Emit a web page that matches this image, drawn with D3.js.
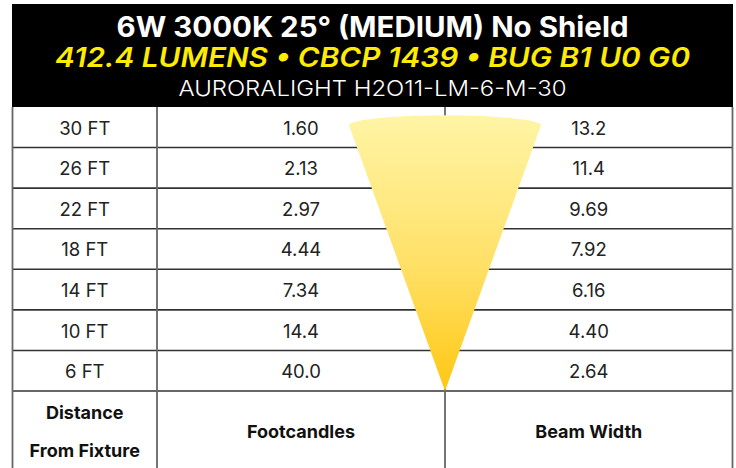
<!DOCTYPE html>
<html>
<head>
<meta charset="utf-8">
<script src="https://cdn.jsdelivr.net/npm/d3@7"></script>
<style>
  html, body { margin: 0; padding: 0; background: #fff; }
  svg { display: block; }
</style>
</head>
<body>
<div id="chart"></div>
<script>
const titleLines = [
  '6W 3000K 25° (MEDIUM) No Shield',
  '412.4 LUMENS • CBCP 1439 • BUG B1 U0 G0',
  'AURORALIGHT H2O11-LM-6-M-30'
];
const distances = ['30 FT', '26 FT', '22 FT', '18 FT', '14 FT', '10 FT', '6 FT'];
const footcandles = ['1.60', '2.13', '2.97', '4.44', '7.34', '14.4', '40.0'];
const beamWidths = ['13.2', '11.4', '9.69', '7.92', '6.16', '4.40', '2.64'];
const columnLabels = [['Distance', 'From Fixture'], ['Footcandles'], ['Beam Width']];

const width = 736;
const height = 468;

const svg = d3.select('#chart')
  .append('svg')
  .attr('width', width)
  .attr('height', height);

// table frame
const left = 12.5, right = 732.5;
const headTop = 4, headBottom = 107;
const colEdges = [left, 157, 445, right];

const y = d3.scaleBand()
  .domain(distances)
  .range([headBottom, 391]);

const colX = i => (colEdges[i] + colEdges[i + 1]) / 2;

// header block
svg.append('rect')
  .attr('x', left - 0.5)
  .attr('y', headTop)
  .attr('width', right - left + 1)
  .attr('height', headBottom - headTop)
  .attr('fill', '#000');

const titleStyle = [
  { y: 37, size: 28, weight: 700, style: 'normal', fill: '#fff', len: 512 },
  { y: 67, size: 27, weight: 600, style: 'italic', fill: '#ffec00', len: 635 },
  { y: 96, size: 22, weight: 300, style: 'normal', fill: '#fff', len: 388 }
];

svg.append('g')
  .selectAll('text')
  .data(titleLines)
  .join('text')
  .attr('x', (left + right) / 2)
  .attr('y', (d, i) => titleStyle[i].y)
  .attr('text-anchor', 'middle')
  .attr('font-family', 'Inter, "Open Sans", sans-serif')
  .attr('font-size', (d, i) => titleStyle[i].size)
  .attr('font-weight', (d, i) => titleStyle[i].weight)
  .attr('font-style', (d, i) => titleStyle[i].style)
  .attr('fill', (d, i) => titleStyle[i].fill)
  .attr('textLength', (d, i) => titleStyle[i].len)
  .attr('lengthAdjust', 'spacingAndGlyphs')
  .text(d => d);

// row lines
svg.append('g')
  .selectAll('line')
  .data(distances)
  .join('line')
  .attr('x1', left)
  .attr('x2', right)
  .attr('y1', d => y(d) + y.bandwidth())
  .attr('y2', d => y(d) + y.bandwidth())
  .attr('stroke', '#333')
  .attr('stroke-width', 1.6);

// column lines
svg.append('g')
  .selectAll('line')
  .data(colEdges)
  .join('line')
  .attr('x1', d => d)
  .attr('x2', d => d)
  .attr('y1', headBottom)
  .attr('y2', height)
  .attr('stroke', '#666')
  .attr('stroke-width', 1.8);

// beam cone
const defs = svg.append('defs');
const grad = defs.append('linearGradient')
  .attr('id', 'coneGrad')
  .attr('x1', 0).attr('y1', 0)
  .attr('x2', 0).attr('y2', 1);
grad.append('stop').attr('offset', '0%').attr('stop-color', '#fff5a6');
grad.append('stop').attr('offset', '55%').attr('stop-color', '#ffe066');
grad.append('stop').attr('offset', '100%').attr('stop-color', '#ffc712');

const coneX = colEdges[2];
const coneTop = y(distances[0]) + y.bandwidth() / 2 - 2;
const coneApex = y.range()[1];
const coneHalf = 96;
const coneRy = 10;
const cone = d3.path();
cone.moveTo(coneX - coneHalf, coneTop);
cone.lineTo(coneX, coneApex);
cone.lineTo(coneX + coneHalf, coneTop);
svg.append('path')
  .attr('d', cone.toString() + ` A ${coneHalf} ${coneRy} 0 0 0 ${coneX - coneHalf} ${coneTop} Z`)
  .attr('fill', 'url(#coneGrad)');

// cell values
const cellFont = 'Inter, "Open Sans", sans-serif';
const columns = [distances, footcandles, beamWidths];

columns.forEach((values, ci) => {
  svg.append('g')
    .selectAll('text')
    .data(values)
    .join('text')
    .attr('x', colX(ci))
    .attr('y', (d, i) => y(distances[i]) + y.bandwidth() / 2 + 1)
    .attr('dy', '0.35em')
    .attr('text-anchor', 'middle')
    .attr('font-family', cellFont)
    .attr('font-size', 18.5)
    .attr('fill', '#222')
    .text(d => d);
});

// column labels in footer row
const footTop = y.range()[1];
columnLabels.forEach((lines, ci) => {
  const cy = footTop + 41;
  const gap = 38;
  svg.append('g')
    .selectAll('text')
    .data(lines)
    .join('text')
    .attr('x', colX(ci))
    .attr('y', (d, i) => cy + (i - (lines.length - 1) / 2) * gap)
    .attr('dy', '0.35em')
    .attr('text-anchor', 'middle')
    .attr('font-family', cellFont)
    .attr('font-size', 18)
    .attr('font-weight', 700)
    .attr('fill', '#111')
    .text(d => d);
});
</script>
</body>
</html>
